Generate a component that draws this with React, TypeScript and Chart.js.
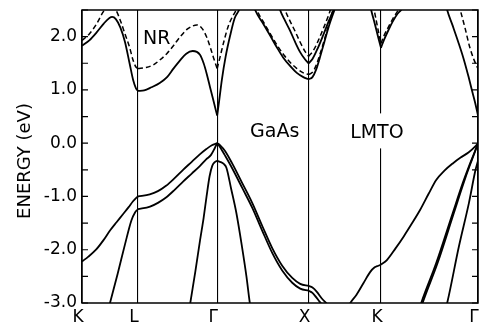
import React, { useEffect, useRef } from 'react';
import { Chart, registerables } from 'chart.js';

Chart.register(...registerables);

type Pt = [number, number];

// High-symmetry points (k in units of 2π/a along the path) and their labels
const symK = [0, 0.612, 1.478, 2.478, 3.269, 4.33];
const symLabels = ['K', 'L', 'Γ', 'X', 'K', 'Γ'];

// Energy axis (eV)
const yMin = -3.0;
const yMax = 2.5;
const yStep = 0.5;

// ---- Conduction bands, LMTO (solid) ----
const cbKL_solid: Pt[] = [[0, 1.83], [0.08, 1.93], [0.16, 2.08], [0.24, 2.25], [0.3, 2.35], [0.33, 2.37], [0.37, 2.33], [0.42, 2.17], [0.47, 1.9], [0.52, 1.5], [0.56, 1.18], [0.59, 1.03], [0.612, 0.98]];
const cbLG_solid: Pt[] = [[0.612, 0.98], [0.68, 0.99], [0.76, 1.05], [0.85, 1.13], [0.93, 1.24], [1.0, 1.4], [1.07, 1.55], [1.14, 1.68], [1.21, 1.73], [1.29, 1.66], [1.33, 1.5], [1.364, 1.3], [1.4, 1.05], [1.437, 0.8], [1.46, 0.64], [1.478, 0.52]];
const cbGX1_solid: Pt[] = [[1.478, 0.52], [1.5, 0.8], [1.53, 1.2], [1.57, 1.62], [1.62, 2.02], [1.67, 2.35], [1.718, 2.5], [1.74, 2.6]];
const cbGX2_solid: Pt[] = [[1.87, 2.62], [1.893, 2.5], [1.975, 2.26], [2.057, 2.02], [2.13, 1.8], [2.199, 1.61], [2.27, 1.46], [2.349, 1.32], [2.42, 1.24], [2.478, 1.2]];
const cbGX3_solid: Pt[] = [[2.15, 2.6], [2.166, 2.5], [2.22, 2.3], [2.276, 2.11], [2.33, 1.9], [2.385, 1.71], [2.44, 1.57], [2.478, 1.5]];
const cbXK2_solid: Pt[] = [[2.478, 1.2], [2.52, 1.24], [2.56, 1.38], [2.6, 1.6], [2.65, 1.9], [2.7, 2.2], [2.75, 2.45], [2.77, 2.55], [2.79, 2.65]];
const cbXK3_solid: Pt[] = [[2.478, 1.5], [2.52, 1.58], [2.58, 1.79], [2.64, 2.04], [2.7, 2.3], [2.755, 2.52], [2.77, 2.6]];
const cbK_left_solid: Pt[] = [[3.15, 2.6], [3.162, 2.5], [3.2, 2.25], [3.24, 1.98], [3.269, 1.79]];
const cbK_right_solid: Pt[] = [[3.269, 1.79], [3.3, 1.93], [3.35, 2.12], [3.4, 2.29], [3.45, 2.43], [3.49, 2.5], [3.51, 2.56]];
const cbKG_solid: Pt[] = [[3.98, 2.6], [3.993, 2.5], [4.05, 2.22], [4.114, 1.9], [4.17, 1.6], [4.223, 1.27], [4.27, 0.95], [4.3, 0.75], [4.33, 0.52]];

// ---- Conduction bands, NR (dashed) ----
const cbKL_dash: Pt[] = [[0, 1.93], [0.08, 2.05], [0.16, 2.24], [0.23, 2.46], [0.3, 2.6], [0.37, 2.5], [0.42, 2.3], [0.47, 2.05], [0.52, 1.8], [0.56, 1.55], [0.59, 1.43], [0.612, 1.4]];
const cbLG_dash: Pt[] = [[0.612, 1.4], [0.7, 1.42], [0.78, 1.47], [0.85, 1.56], [0.927, 1.68], [1.0, 1.83], [1.07, 1.99], [1.15, 2.14], [1.21, 2.2], [1.255, 2.22], [1.31, 2.16], [1.364, 1.99], [1.41, 1.76], [1.437, 1.61], [1.46, 1.49], [1.478, 1.4]];
const cbGX1_dash: Pt[] = [[1.478, 1.4], [1.51, 1.62], [1.55, 1.9], [1.6, 2.2], [1.685, 2.5], [1.71, 2.58]];
const cbGX2_dash: Pt[] = [[1.9, 2.6], [1.915, 2.5], [1.99, 2.26], [2.07, 2.02], [2.14, 1.82], [2.21, 1.65], [2.28, 1.51], [2.35, 1.4], [2.42, 1.32], [2.478, 1.29]];
const cbGX3_dash: Pt[] = [[2.205, 2.6], [2.221, 2.5], [2.27, 2.31], [2.33, 2.1], [2.39, 1.88], [2.44, 1.72], [2.478, 1.63]];
const cbXK2_dash: Pt[] = [[2.478, 1.29], [2.52, 1.33], [2.56, 1.46], [2.6, 1.66], [2.65, 1.94], [2.7, 2.24], [2.74, 2.48], [2.76, 2.6]];
const cbXK3_dash: Pt[] = [[2.478, 1.63], [2.53, 1.74], [2.59, 1.95], [2.65, 2.2], [2.7, 2.42], [2.73, 2.58]];
const cbK_left_dash: Pt[] = [[3.185, 2.6], [3.195, 2.5], [3.22, 2.28], [3.25, 2.02], [3.269, 1.87]];
const cbK_right_dash: Pt[] = [[3.269, 1.87], [3.3, 2.01], [3.35, 2.18], [3.4, 2.34], [3.457, 2.5], [3.47, 2.55]];
const cbKG_dash: Pt[] = [[4.12, 2.6], [4.136, 2.5], [4.19, 2.15], [4.24, 1.8], [4.29, 1.55], [4.33, 1.4]];

// ---- Valence bands (solid) ----
const vbKL_1: Pt[] = [[0, -2.22], [0.07, -2.13], [0.153, -2.0], [0.235, -1.82], [0.306, -1.64], [0.38, -1.48], [0.45, -1.33], [0.51, -1.2], [0.558, -1.09], [0.59, -1.03], [0.612, -1.0]];
const vbKL_2: Pt[] = [[0.29, -3.1], [0.306, -3.0], [0.39, -2.45], [0.47, -1.9], [0.54, -1.45], [0.58, -1.3], [0.612, -1.24]];
const vbLG_1: Pt[] = [[0.612, -1.0], [0.741, -0.96], [0.83, -0.9], [0.919, -0.8], [1.01, -0.66], [1.105, -0.5], [1.2, -0.35], [1.288, -0.21], [1.36, -0.11], [1.42, -0.04], [1.478, 0]];
const vbLG_2: Pt[] = [[0.612, -1.24], [0.744, -1.19], [0.83, -1.12], [0.919, -1.02], [1.01, -0.88], [1.105, -0.72], [1.2, -0.57], [1.288, -0.43], [1.36, -0.3], [1.411, -0.22], [1.45, -0.1], [1.478, 0]];
const vbLG_so: Pt[] = [[1.175, -3.1], [1.184, -3.0], [1.24, -2.4], [1.291, -1.82], [1.33, -1.4], [1.362, -1.0], [1.395, -0.62], [1.425, -0.42], [1.455, -0.35], [1.478, -0.33]];
const vbGX_1: Pt[] = [[1.478, 0], [1.511, -0.04], [1.566, -0.15], [1.642, -0.38], [1.752, -0.75], [1.861, -1.12], [1.97, -1.55], [2.08, -1.97], [2.189, -2.3], [2.299, -2.53], [2.386, -2.64], [2.478, -2.68]];
const vbGX_2: Pt[] = [[1.478, 0], [1.505, -0.06], [1.56, -0.22], [1.642, -0.47], [1.752, -0.84], [1.861, -1.21], [1.97, -1.64], [2.08, -2.06], [2.189, -2.39], [2.299, -2.62], [2.386, -2.73], [2.478, -2.77]];
const vbGX_so: Pt[] = [[1.478, -0.33], [1.51, -0.35], [1.55, -0.39], [1.579, -0.46], [1.63, -0.85], [1.688, -1.31], [1.75, -1.95], [1.798, -2.5], [1.835, -3.0], [1.845, -3.1]];
const vbXK_1: Pt[] = [[2.478, -2.68], [2.52, -2.71], [2.568, -2.79], [2.62, -2.91], [2.68, -3.02], [2.7, -3.06]];
const vbXK_2: Pt[] = [[2.478, -2.77], [2.52, -2.81], [2.56, -2.89], [2.6, -2.98], [2.64, -3.06]];
const vbXK_3: Pt[] = [[2.92, -3.05], [2.934, -3.0], [3.0, -2.85], [3.08, -2.62], [3.15, -2.42], [3.2, -2.33], [3.24, -2.3], [3.269, -2.28]];
const vbKG_1: Pt[] = [[3.269, -2.28], [3.331, -2.2], [3.43, -1.97], [3.518, -1.75], [3.61, -1.5], [3.698, -1.25], [3.79, -0.95], [3.873, -0.69], [3.96, -0.52], [4.054, -0.38], [4.14, -0.27], [4.229, -0.17], [4.3, -0.06], [4.33, 0]];
const vbKG_2: Pt[] = [[3.7, -3.05], [3.709, -3.0], [3.873, -2.25], [4.054, -1.31], [4.163, -0.75], [4.234, -0.42], [4.29, -0.18], [4.33, 0]];
const vbKG_3: Pt[] = [[3.715, -3.05], [3.724, -3.0], [3.888, -2.25], [4.066, -1.31], [4.172, -0.75], [4.24, -0.42], [4.295, -0.17], [4.33, 0]];
const vbKG_so: Pt[] = [[3.985, -3.05], [3.993, -3.0], [4.121, -1.94], [4.231, -1.12], [4.303, -0.5], [4.33, -0.33]];

const solidBands: Pt[][] = [
  cbKL_solid, cbLG_solid, cbGX1_solid, cbGX2_solid, cbGX3_solid, cbXK2_solid, cbXK3_solid,
  cbK_left_solid, cbK_right_solid, cbKG_solid,
  vbKL_1, vbKL_2, vbLG_1, vbLG_2, vbLG_so, vbGX_1, vbGX_2, vbGX_so,
  vbXK_1, vbXK_2, vbXK_3, vbKG_1, vbKG_2, vbKG_3, vbKG_so,
];
const dashedBands: Pt[][] = [
  cbKL_dash, cbLG_dash, cbGX1_dash, cbGX2_dash, cbGX3_dash, cbXK2_dash, cbXK3_dash,
  cbK_left_dash, cbK_right_dash, cbKG_dash,
];

// In-plot labels (position in data units: k, energy of text baseline)
const noteTexts = ['NR', 'GaAs', 'LMTO'];
const noteK = [0.667, 1.838, 2.932];
const noteE = [1.87, 0.11, 0.09];
const noteMask = [false, false, true];
const yTitle = 'ENERGY (eV)';

const FONT = '"DejaVu Sans", "Liberation Sans", sans-serif';

const decorPlugin = {
  id: 'decor',
  afterDatasetsDraw(chart: any) {
    const { ctx, chartArea: a, scales } = chart;
    const xs = scales.x;
    const ys = scales.y;
    ctx.save();
    ctx.strokeStyle = '#000';
    ctx.lineWidth = 1.5;
    ctx.strokeRect(a.left, a.top, a.right - a.left, a.bottom - a.top);
    ctx.lineWidth = 1.2;
    ys.ticks.forEach((t: any) => {
      const py = ys.getPixelForValue(t.value);
      ctx.beginPath();
      ctx.moveTo(a.left, py);
      ctx.lineTo(a.left + 6, py);
      ctx.moveTo(a.right, py);
      ctx.lineTo(a.right - 6, py);
      ctx.stroke();
    });
    ctx.font = `19px ${FONT}`;
    ctx.textAlign = 'left';
    ctx.textBaseline = 'alphabetic';
    noteTexts.forEach((txt, i) => {
      const px = xs.getPixelForValue(noteK[i]);
      const py = ys.getPixelForValue(noteE[i]);
      if (noteMask[i]) {
        const w = ctx.measureText(txt).width;
        ctx.fillStyle = '#fff';
        ctx.fillRect(px - 3, py - 25, w + 6, 35);
      }
      ctx.fillStyle = '#000';
      ctx.fillText(txt, px, py);
    });
    ctx.translate(25, (a.top + a.bottom) / 2 + 4.5);
    ctx.rotate(-Math.PI / 2);
    ctx.font = `18px ${FONT}`;
    ctx.textAlign = 'center';
    ctx.textBaseline = 'middle';
    ctx.fillStyle = '#000';
    ctx.fillText(yTitle, 0, 0);
    ctx.restore();
  },
};

export default function App() {
  const ref = useRef<HTMLCanvasElement | null>(null);
  useEffect(() => {
    if (!ref.current) return;
    const mk = (pts: Pt[], dashed: boolean) => ({
      data: pts.map(([x, y]) => ({ x, y })),
      borderColor: '#000',
      borderWidth: dashed ? 1.5 : 1.8,
      borderDash: dashed ? [5, 3] : [],
      pointRadius: 0,
      pointHoverRadius: 0,
      fill: false,
      cubicInterpolationMode: 'monotone' as const,
    });
    const chart = new Chart(ref.current, {
      type: 'line',
      data: {
        datasets: [
          ...solidBands.map((b) => mk(b, false)),
          ...dashedBands.map((b) => mk(b, true)),
        ],
      },
      options: {
        animation: false,
        responsive: false,
        events: [],
        layout: { padding: { top: 10, right: 1, left: 0, bottom: 0 } },
        plugins: { legend: { display: false }, tooltip: { enabled: false } },
        scales: {
          x: {
            type: 'linear',
            min: symK[0],
            max: symK[symK.length - 1],
            afterBuildTicks: (s: any) => {
              s.ticks = symK.map((v) => ({ value: v }));
            },
            afterFit: (s: any) => {
              s.height = 25;
              s.paddingLeft = 0;
              s.paddingRight = 0;
            },
            ticks: {
              autoSkip: false,
              maxRotation: 0,
              callback: (_v: any, i: number) => symLabels[i],
              font: { family: FONT, size: 17 },
              color: '#000',
              padding: 4,
              labelOffset: -4,
            },
            grid: { color: '#000', lineWidth: 1.1, drawTicks: false, drawOnChartArea: true },
            border: { display: false },
          },
          y: {
            type: 'linear',
            min: yMin,
            max: yMax,
            afterFit: (s: any) => {
              s.width = 82;
              s.paddingTop = 0;
              s.paddingBottom = 0;
            },
            ticks: {
              stepSize: yStep,
              callback: (v: any) => (Number.isInteger(v) ? Number(v).toFixed(1) : ''),
              font: { family: FONT, size: 17 },
              color: '#000',
              padding: 5,
            },
            grid: { display: false, drawTicks: false },
            border: { display: false },
          },
        },
      },
      plugins: [decorPlugin],
    });
    return () => chart.destroy();
  }, []);
  return (
    <div style={{ position: 'fixed', left: 0, top: 0, width: 479, height: 328, background: '#fff' }}>
      <canvas ref={ref} width={479} height={328} />
    </div>
  );
}
